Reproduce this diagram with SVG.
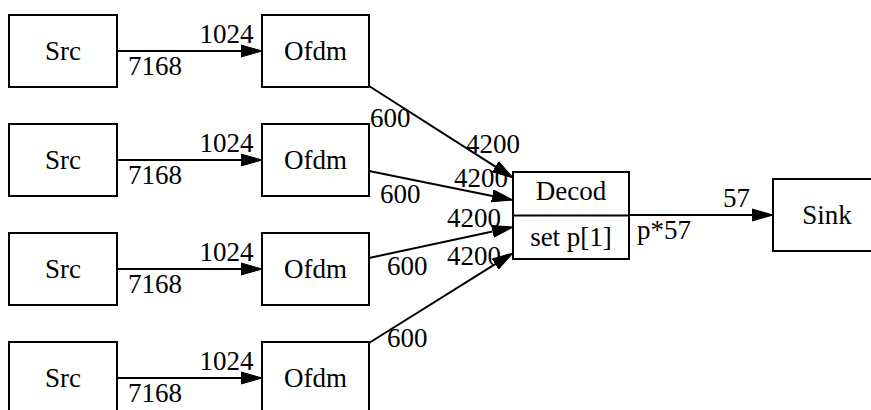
<svg xmlns="http://www.w3.org/2000/svg" width="871" height="410" viewBox="0 0 871 410">
<defs>
<style>
.box{fill:#fff;stroke:#000;stroke-width:2}
.e{fill:none;stroke:#000;stroke-width:2}
text{font-family:"Liberation Serif","Times New Roman",serif;font-size:27px;fill:#000}
.c{text-anchor:middle}
</style>
<marker id="ah" markerUnits="userSpaceOnUse" markerWidth="22" markerHeight="14" viewBox="0 -7 22 14" refX="0" refY="0" orient="auto">
<path d="M0,-6 L21,0 L0,6 Z" fill="#000" stroke="#000" stroke-width="1"/>
</marker>
</defs>
<rect width="871" height="410" fill="#fff"/>
<g id="connectors">
<line class="e" x1="117" y1="51" x2="241" y2="51" marker-end="url(#ah)"/>
<line class="e" x1="117" y1="160" x2="241" y2="160" marker-end="url(#ah)"/>
<line class="e" x1="117" y1="269" x2="241" y2="269" marker-end="url(#ah)"/>
<line class="e" x1="117" y1="378" x2="241" y2="378" marker-end="url(#ah)"/>
<line class="e" x1="369" y1="86" x2="495.4" y2="166.6" marker-end="url(#ah)"/>
<line class="e" x1="369" y1="171" x2="492.4" y2="195.9" marker-end="url(#ah)"/>
<line class="e" x1="369" y1="258" x2="492.5" y2="231.4" marker-end="url(#ah)"/>
<line class="e" x1="369" y1="343" x2="495.2" y2="264.1" marker-end="url(#ah)"/>
<line class="e" x1="629" y1="215" x2="752" y2="215" marker-end="url(#ah)"/>
<text x="199.5" y="43">1024</text>
<text x="128" y="75">7168</text>
<text x="199.5" y="152">1024</text>
<text x="128" y="184">7168</text>
<text x="199.5" y="261">1024</text>
<text x="128" y="293">7168</text>
<text x="199.5" y="370">1024</text>
<text x="128" y="402">7168</text>
<text x="370" y="127">600</text>
<text x="380" y="203">600</text>
<text x="387" y="275">600</text>
<text x="387" y="347">600</text>
<text x="466" y="153">4200</text>
<text x="454" y="187">4200</text>
<text x="447" y="227">4200</text>
<text x="447" y="265">4200</text>
<text x="723" y="207">57</text>
<text x="637" y="239">p*57</text>
</g>
<g id="src1"><rect class="box" x="9" y="15" width="108" height="72"/><text class="c" x="63" y="60">Src</text></g>
<g id="src2"><rect class="box" x="9" y="124" width="108" height="72"/><text class="c" x="63" y="169">Src</text></g>
<g id="src3"><rect class="box" x="9" y="233" width="108" height="72"/><text class="c" x="63" y="278">Src</text></g>
<g id="src4"><rect class="box" x="9" y="342" width="108" height="72"/><text class="c" x="63" y="387">Src</text></g>
<g id="ofdm1"><rect class="box" x="262" y="15" width="107" height="72"/><text class="c" x="315.5" y="60">Ofdm</text></g>
<g id="ofdm2"><rect class="box" x="262" y="124" width="107" height="72"/><text class="c" x="315.5" y="169">Ofdm</text></g>
<g id="ofdm3"><rect class="box" x="262" y="233" width="107" height="72"/><text class="c" x="315.5" y="278">Ofdm</text></g>
<g id="ofdm4"><rect class="box" x="262" y="342" width="107" height="72"/><text class="c" x="315.5" y="387">Ofdm</text></g>
<g id="decod">
<rect class="box" x="513" y="172" width="116" height="87"/>
<line class="e" x1="513" y1="215.5" x2="629" y2="215.5"/>
<text class="c" x="571" y="200">Decod</text>
<text class="c" x="571" y="246">set p[1]</text>
</g>
<g id="sink"><rect class="box" x="773" y="179" width="108" height="72"/><text class="c" x="827" y="224">Sink</text></g>
</svg>
